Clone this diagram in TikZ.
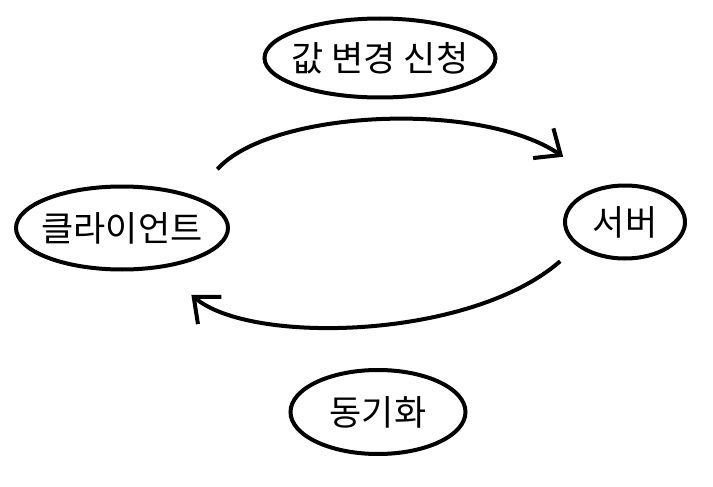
\documentclass[tikz,border=0pt]{standalone}
\usepackage{fontspec}
\newfontfamily\kor{Noto Sans CJK KR}
\usetikzlibrary{arrows.meta, calc, shapes.geometric}

\begin{document}
\begin{tikzpicture}[x=1pt, y=-1pt,
    >={Straight Barb[length=21pt, width=36pt]},
    bubble/.style={draw, ellipse, line width=4pt, inner sep=0pt,
                   font=\kor\fontsize{35pt}{40pt}\selectfont},
    flow/.style={->, line width=4pt}]

    \useasboundingbox (0, 0) rectangle (713, 487);

    % 노드
    \node[bubble, minimum width=231pt, minimum height=79pt]
        (request) at (380, 58) {\makebox[0pt]{값 변경 신청}};
    \node[bubble, minimum width=212pt, minimum height=83pt]
        (client) at (122, 228) {\makebox[0pt]{클라이언트}};
    \node[bubble, minimum width=120pt, minimum height=73pt]
        (server) at (625, 222) {\makebox[0pt]{서버}};
    \node[bubble, minimum width=175pt, minimum height=84pt]
        (sync) at (378, 412) {\makebox[0pt]{동기화}};

    % 클라이언트 -> 서버
    \draw[flow] ($(client.north east) + (19, -28)$)
        .. controls (270, 110) and (480, 100) ..
        ($(server.north west) + (-18, -38)$);

    % 서버 -> 클라이언트
    \draw[flow] ($(server.south west) + (-21, 12)$)
        .. controls (470, 340) and (250, 345) ..
        ($(client.south east) + (-7, 36)$);

\end{tikzpicture}
\end{document}
